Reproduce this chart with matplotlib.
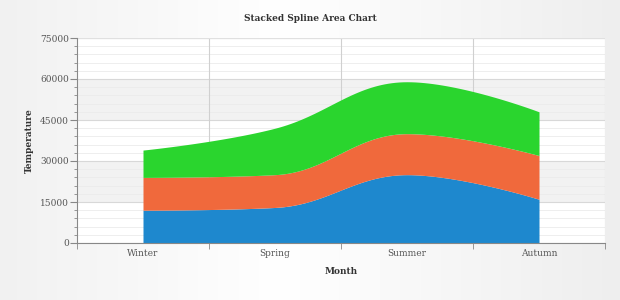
import numpy as np
import matplotlib
matplotlib.use("Agg")
import matplotlib.pyplot as plt

categories = ["Winter", "Spring", "Summer", "Autumn"]
series_a = [12000, 13000, 25000, 16000]   # blue
series_b = [12000, 12000, 15000, 16000]   # orange
series_c = [10000, 17000, 19000, 16000]   # green
y_ticks = [0, 15000, 30000, 45000, 60000, 75000]
colors = ["#1e88ce", "#f0693c", "#2ad52e"]


def spline(xs, ys, n=40):
    """Highcharts-style spline with smoothing 1.5, returns dense curve."""
    xs = list(map(float, xs)); ys = list(map(float, ys))
    k = len(xs)
    sm, den = 1.5, 2.5
    lc = [None] * k
    rc = [None] * k
    for i in range(k):
        if i == 0 or i == k - 1:
            lc[i] = (xs[i], ys[i]); rc[i] = (xs[i], ys[i]); continue
        lx, ly = xs[i - 1], ys[i - 1]
        nx, ny = xs[i + 1], ys[i + 1]
        px, py = xs[i], ys[i]
        lcx = (sm * px + lx) / den; lcy = (sm * py + ly) / den
        rcx = (sm * px + nx) / den; rcy = (sm * py + ny) / den
        if rcx != lcx:
            corr = ((rcy - lcy) * (rcx - px)) / (rcx - lcx) + py - rcy
            lcy += corr; rcy += corr
        if lcy > ly and lcy > py:
            lcy = max(ly, py); rcy = 2 * py - lcy
        elif lcy < ly and lcy < py:
            lcy = min(ly, py); rcy = 2 * py - lcy
        if rcy > ny and rcy > py:
            rcy = max(ny, py); lcy = 2 * py - rcy
        elif rcy < ny and rcy < py:
            rcy = min(ny, py); lcy = 2 * py - rcy
        lc[i] = (lcx, lcy); rc[i] = (rcx, rcy)
    X, Y = [], []
    t = np.linspace(0, 1, n)
    for i in range(k - 1):
        p0 = (xs[i], ys[i]); p1 = rc[i]; p2 = lc[i + 1]; p3 = (xs[i + 1], ys[i + 1])
        bx = (1 - t) ** 3 * p0[0] + 3 * (1 - t) ** 2 * t * p1[0] + 3 * (1 - t) * t ** 2 * p2[0] + t ** 3 * p3[0]
        by = (1 - t) ** 3 * p0[1] + 3 * (1 - t) ** 2 * t * p1[1] + 3 * (1 - t) * t ** 2 * p2[1] + t ** 3 * p3[1]
        if i > 0:
            bx, by = bx[1:], by[1:]
        X.extend(bx); Y.extend(by)
    return np.array(X), np.array(Y)


fig = plt.figure(figsize=(6.2, 3.0), dpi=100)
# soft gradient background
grad = np.linspace(0, 1, 256)
g = 1 - 0.06 * np.abs(grad - 0.45) * 2
bg = np.tile(g, (10, 1))
bgax = fig.add_axes([0, 0, 1, 1], zorder=-10)
bgax.imshow(np.dstack([bg, bg, bg]), aspect="auto", extent=[0, 1, 0, 1], vmin=0, vmax=1)
bgax.axis("off")

ax = fig.add_axes([77 / 620, 57 / 300, 528 / 620, 205 / 300])
ax.set_facecolor("white")
x = np.arange(len(categories))
ax.set_xlim(-0.5, len(categories) - 0.5)
ax.set_ylim(0, 75000)

# alternating bands
for i, (lo, hi) in enumerate(zip(y_ticks[:-1], y_ticks[1:])):
    if i % 2 == 1:
        ax.axhspan(lo, hi, color="#f2f2f2", zorder=0, lw=0)
for v in np.arange(0, 75001, 3000):
    ax.axhline(v, color="#ebebeb", lw=0.6, zorder=0.5)
for v in y_ticks:
    ax.axhline(v, color="#d8d8d8", lw=0.8, zorder=0.6)
for b in np.arange(0.5, len(categories) - 0.5, 1):
    ax.axvline(b, color="#d0d0d0", lw=0.8, zorder=0.6)
ax.axvline(len(categories) - 0.5, color="#d0d0d0", lw=0.8, zorder=0.6)
ax.axhline(75000, color="#e0e0e0", lw=0.8, zorder=0.6)

base = np.zeros(len(categories))
prev_curve = None
for vals, c in zip([series_a, series_b, series_c], colors):
    top = base + np.array(vals)
    X, Ytop = spline(x, top)
    if prev_curve is None:
        Ybot = np.zeros_like(Ytop)
    else:
        Ybot = prev_curve
    ax.fill_between(X, Ybot, Ytop, color=c, lw=0, zorder=2)
    prev_curve = Ytop
    base = top

for s in ["top", "right"]:
    ax.spines[s].set_visible(False)
ax.spines["left"].set_color("#888888")
ax.spines["bottom"].set_color("#888888")
ax.spines["left"].set_zorder(3)
ax.spines["bottom"].set_zorder(3)

ax.set_yticks(y_ticks)
ax.set_yticklabels([str(v) for v in y_ticks])
ax.set_yticks(np.arange(0, 75001, 3000), minor=True)
ax.set_xticks(x)
ax.set_xticklabels(categories)
ax.set_xticks(np.arange(-0.5, len(categories), 1), minor=True)
ax.tick_params(axis="x", which="major", length=0, pad=4, labelsize=6.5, labelcolor="#555555")
ax.tick_params(axis="x", which="minor", length=4, color="#888888")
ax.tick_params(axis="y", which="major", length=5, color="#888888", pad=1, labelsize=6.5, labelcolor="#555555")
ax.tick_params(axis="y", which="minor", length=2, color="#888888")
for lab in ax.get_xticklabels() + ax.get_yticklabels():
    lab.set_family("DejaVu Serif")

ax.set_xlabel("Month", family="DejaVu Serif", fontsize=6.5, fontweight="bold", color="#333333", labelpad=7)
ax.set_ylabel("Temperature", family="DejaVu Serif", fontsize=6.5, fontweight="bold", color="#333333", labelpad=4)
fig.text(0.5, 0.938, "Stacked Spline Area Chart", ha="center", va="center",
         family="DejaVu Serif", fontsize=6.5, fontweight="bold", color="#333333")

fig.savefig("out.png", dpi=100)
